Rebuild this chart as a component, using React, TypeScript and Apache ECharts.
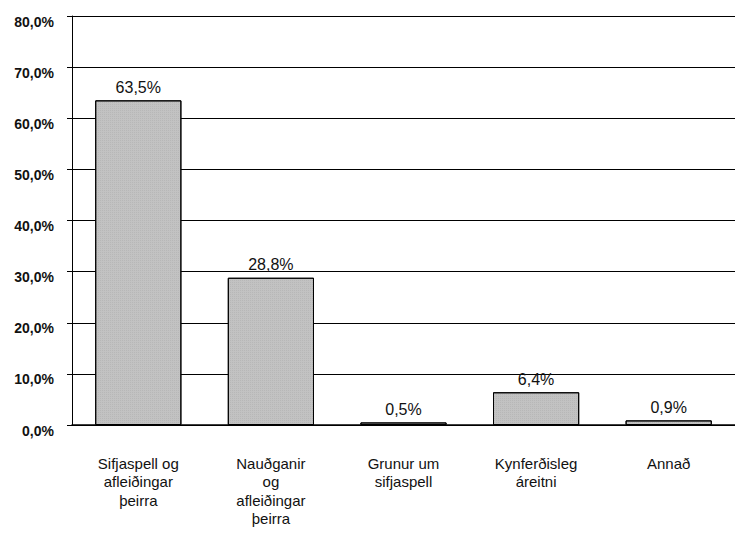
import React, { useEffect, useRef } from "react";
import * as echarts from "echarts";

const categories = [
  "Sifjaspell og\nafleiðingar\nþeirra",
  "Nauðganir\nog\nafleiðingar\nþeirra",
  "Grunur um\nsifjaspell",
  "Kynferðisleg\náreitni",
  "Annað",
];
const values = [63.5, 28.8, 0.5, 6.4, 0.9];
const yTicks = [0, 10, 20, 30, 40, 50, 60, 70, 80];

const fmt = (v: number) => v.toFixed(1).replace(".", ",") + "%";

export default function App() {
  const ref = useRef<HTMLDivElement>(null);
  useEffect(() => {
    const chart = echarts.init(ref.current!, undefined, { renderer: "svg" });
    chart.setOption({
      animation: false,
      backgroundColor: "#ffffff",
      textStyle: { fontFamily: "Liberation Sans, Arial, sans-serif" },
      grid: { left: 72, right: -4, top: 16, bottom: 113, containLabel: false },
      xAxis: {
        type: "category",
        data: categories,
        axisLine: { lineStyle: { color: "#000", width: 1.5 } },
        axisTick: { show: false },
        axisLabel: {
          color: "#111",
          fontSize: 15,
          lineHeight: 18.5,
          margin: 29,
          interval: 0,
        },
      },
      yAxis: {
        type: "value",
        min: yTicks[0],
        max: yTicks[yTicks.length - 1],
        interval: 10,
        axisLine: { show: true, lineStyle: { color: "#000", width: 1 } },
        axisTick: { show: true, length: 5, lineStyle: { color: "#000" } },
        splitLine: { show: true, lineStyle: { color: "#000", width: 1 } },
        axisLabel: {
          color: "#111",
          fontSize: 14,
          fontWeight: "bold",
          margin: 18,
          verticalAlign: "top",
          lineHeight: 11,
          formatter: (v: number) => fmt(v),
        },
      },
      series: [
        {
          type: "bar",
          data: values,
          barWidth: "65%",
          itemStyle: {
            color: "#c2c2c2",
            borderColor: "#000",
            borderWidth: 1,
            decal: {
              symbol: "rect",
              symbolSize: 0.5,
              dashArrayX: [1, 1],
              dashArrayY: [1, 1],
              color: "rgba(60,60,60,0.35)",
            },
          },
          label: {
            show: true,
            position: "top",
            color: "#111",
            fontSize: 16,
            distance: 5,
            formatter: (p: any) => fmt(p.value),
          },
        },
      ],
    });
    return () => chart.dispose();
  }, []);
  return (
    <div
      ref={ref}
      style={{ position: "absolute", left: 0, top: 0, width: 735, height: 538 }}
    />
  );
}
